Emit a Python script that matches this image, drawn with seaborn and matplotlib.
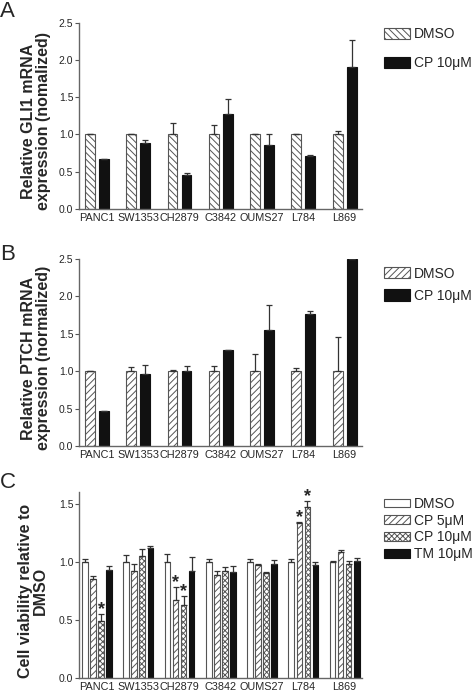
import numpy as np
import pandas as pd
import seaborn as sns
import matplotlib.pyplot as plt

# cell lines (shared by all panels)
lines = ["PANC1", "SW1353", "CH2879", "C3842", "OUMS27", "L784", "L869"]

# panel A - GLI1 mRNA
gli_dmso = [1.0, 1.0, 1.0, 1.0, 1.0, 1.0, 1.0]
gli_dmso_err = [0.0, 0.0, 0.16, 0.13, 0.01, 0.01, 0.05]
gli_cp = [0.67, 0.89, 0.45, 1.27, 0.86, 0.71, 1.91]
gli_cp_err = [0.0, 0.03, 0.03, 0.21, 0.14, 0.01, 0.36]

# panel B - PTCH mRNA
ptch_dmso = [1.0, 1.0, 1.0, 1.0, 1.0, 1.0, 1.0]
ptch_dmso_err = [0.0, 0.06, 0.02, 0.07, 0.23, 0.05, 0.46]
ptch_cp = [0.47, 0.97, 1.01, 1.28, 1.55, 1.76, 2.50]
ptch_cp_err = [0.0, 0.11, 0.06, 0.0, 0.33, 0.04, 0.0]

# panel C - cell viability
via_dmso = [1.0, 1.0, 1.0, 1.0, 1.0, 1.0, 1.0]
via_dmso_err = [0.02, 0.055, 0.065, 0.02, 0.02, 0.02, 0.005]
via_cp5 = [0.85, 0.92, 0.67, 0.89, 0.97, 1.33, 1.08]
via_cp5_err = [0.03, 0.06, 0.11, 0.03, 0.01, 0.01, 0.02]
via_cp10 = [0.49, 1.05, 0.63, 0.925, 0.90, 1.47, 0.977]
via_cp10_err = [0.06, 0.06, 0.08, 0.03, 0.015, 0.05, 0.03]
via_tm = [0.93, 1.12, 0.92, 0.914, 0.985, 0.97, 1.01]
via_tm_err = [0.03, 0.02, 0.12, 0.046, 0.03, 0.025, 0.02]
# significant bars: (treatment, cell line)
stars = [("CP 10μM", "PANC1"), ("CP 5μM", "CH2879"), ("CP 10μM", "CH2879"),
         ("CP 5μM", "L784"), ("CP 10μM", "L784")]

sns.set_style("ticks")
plt.rcParams["font.family"] = ["Liberation Sans", "DejaVu Sans"]
plt.rcParams["hatch.linewidth"] = 0.7

EDGE = "#555555"


def make_df(groups):
    rows = []
    for name, vals, errs in groups:
        for ln, v, e in zip(lines, vals, errs):
            rows.append({"line": ln, "treatment": name, "value": v, "err": e})
    return pd.DataFrame(rows)


def draw_panel(ax, df, styles, width, ylim, yticks, ylabel, leg_kw,
               label_x=-0.10, star_list=()):
    order = [s[0] for s in styles]
    sns.barplot(data=df, x="line", y="value", hue="treatment", hue_order=order,
                order=lines, errorbar=None, width=width, gap=0.3, ax=ax,
                palette={s[0]: s[1] for s in styles}, legend=False,
                edgecolor=EDGE, linewidth=0.8)
    for cont, (name, fc, hatch) in zip(ax.containers, styles):
        sub = df[df["treatment"] == name].set_index("line").loc[lines]
        xs = []
        for p in cont.patches:
            p.set_hatch(hatch)
            p.set_facecolor(fc)
            if fc != "white":
                p.set_edgecolor("#111111")
            xs.append(p.get_x() + p.get_width() / 2)
        xs = np.array(xs)
        errs = sub["err"].values
        ax.errorbar(xs, sub["value"].values, yerr=[np.zeros_like(errs), errs],
                    fmt="none", ecolor="#333333", elinewidth=0.9, capsize=2,
                    capthick=0.9, zorder=1)
        for t, ln in star_list:
            if t == name:
                i = lines.index(ln)
                ax.annotate("*", (xs[i], sub["value"].values[i] + errs[i]),
                            xytext=(0, -3), textcoords="offset points",
                            ha="center", va="bottom", fontsize=13,
                            fontweight="bold")
    ax.set_xlim(-0.44, 6.42)
    ax.set_ylim(*ylim)
    ax.set_yticks(yticks)
    ax.set_yticklabels([f"{t:.1f}" for t in yticks], fontsize=7.5)
    ax.set_xticks(range(len(lines)))
    ax.set_xticklabels(lines, fontsize=7.8)
    ax.tick_params(axis="x", length=0, pad=3)
    ax.tick_params(axis="y", length=3, width=0.8, color="#555555", pad=1)
    ax.set_xlabel("")
    ax.set_ylabel(ylabel, fontsize=11.5, fontweight="bold", linespacing=1.0)
    ax.yaxis.set_label_coords(label_x, 0.47)
    for sp in ["left", "bottom"]:
        ax.spines[sp].set_color("#666666")
        ax.spines[sp].set_linewidth(1.0)
    sns.despine(ax=ax)
    fig.legend(ax.containers, order, frameon=False, fontsize=10,
               handlelength=1.9, handletextpad=0.3, borderpad=0,
               loc="upper left", **leg_kw)


fig = plt.figure(figsize=(4.75, 6.94), dpi=100)
axA = fig.add_axes([0.166, 0.699, 0.596, 0.268])
axB = fig.add_axes([0.166, 0.357, 0.596, 0.270])
axC = fig.add_axes([0.166, 0.023, 0.596, 0.268])

dfA = make_df([("DMSO", gli_dmso, gli_dmso_err), ("CP 10μM", gli_cp, gli_cp_err)])
draw_panel(axA, dfA, [("DMSO", "white", "\\\\\\\\\\"), ("CP 10μM", "#111111", "")],
           0.68, (0, 2.5), [0, 0.5, 1.0, 1.5, 2.0, 2.5],
           "Relative GLI1 mRNA\nexpression (nomalized)",
           dict(bbox_to_anchor=(0.793, 0.971), labelspacing=1.1, handleheight=0.9))

dfB = make_df([("DMSO", ptch_dmso, ptch_dmso_err), ("CP 10μM", ptch_cp, ptch_cp_err)])
draw_panel(axB, dfB, [("DMSO", "white", "/////"), ("CP 10μM", "#111111", "")],
           0.68, (0, 2.5), [0, 0.5, 1.0, 1.5, 2.0, 2.5],
           "Relative PTCH mRNA\nexpression (normalized)",
           dict(bbox_to_anchor=(0.793, 0.626), labelspacing=0.6, handleheight=0.9))

dfC = make_df([("DMSO", via_dmso, via_dmso_err), ("CP 5μM", via_cp5, via_cp5_err),
               ("CP 10μM", via_cp10, via_cp10_err), ("TM 10μM", via_tm, via_tm_err)])
draw_panel(axC, dfC, [("DMSO", "white", ""), ("CP 5μM", "white", "/////"),
                      ("CP 10μM", "white", "xxxxxx"), ("TM 10μM", "#111111", "")],
           0.78, (0, 1.6), [0, 0.5, 1.0, 1.5],
           "Cell viability relative to\nDMSO",
           dict(bbox_to_anchor=(0.793, 0.294), labelspacing=0.2, handleheight=0.6),
           label_x=-0.11, star_list=stars)

for letter, y in [("A", 0.983), ("B", 0.633), ("C", 0.305)]:
    fig.text(0.0, y, letter, fontsize=16, va="center", ha="left")

fig.savefig("out.png", dpi=100)
